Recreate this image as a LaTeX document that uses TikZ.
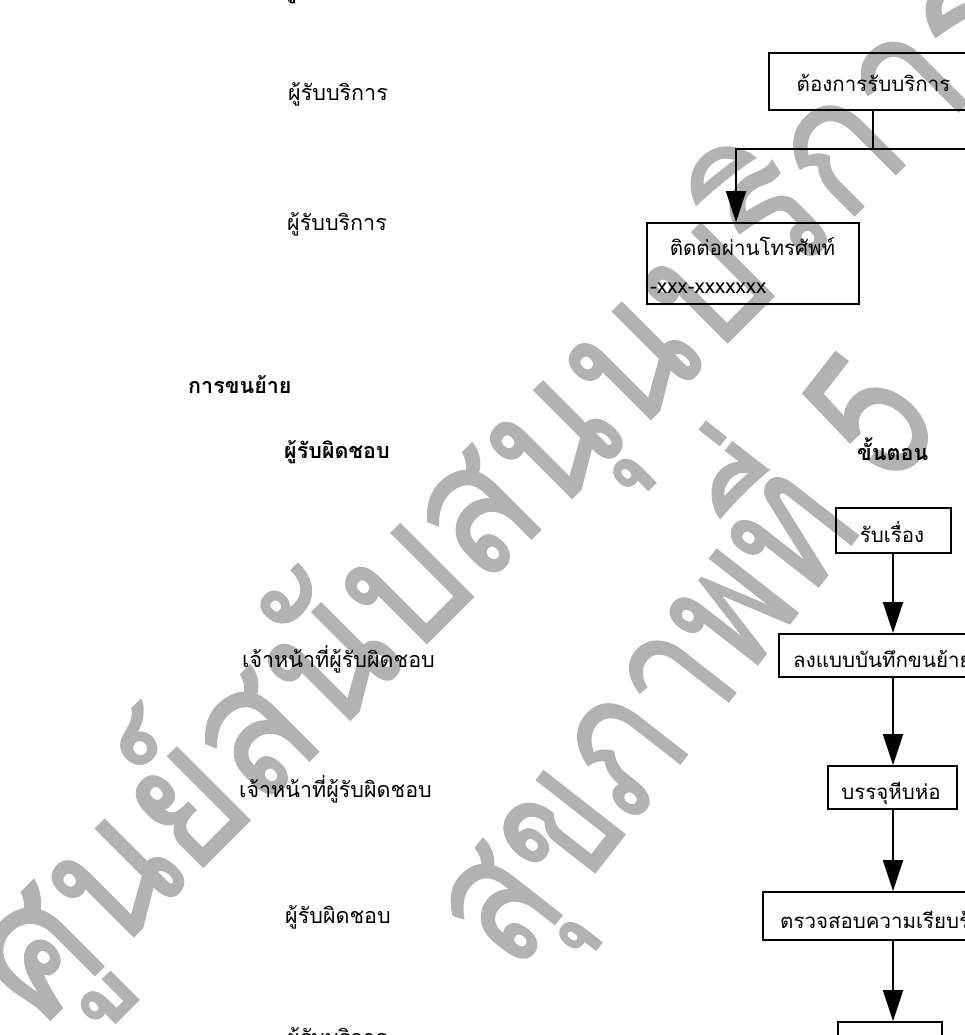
\documentclass[tikz,border=0pt]{standalone}
\usepackage{fontspec}
\usepackage{graphicx}
\usetikzlibrary{arrows.meta}
\newfontfamily\thai[Script=Thai]{Loma}
\newfontfamily\wmthai[Script=Thai,FakeBold=1]{Loma}
\begin{document}
\begin{tikzpicture}[x=1pt,y=-1pt,
  lbl/.style={font=\thai\fontsize{21.5}{24}\selectfont, inner sep=0pt, anchor=base west},
  hdr/.style={lbl, font=\thai\bfseries\fontsize{21.5}{24}\selectfont},
  btxt/.style={font=\thai\fontsize{20.5}{24}\selectfont, inner sep=0pt, anchor=base},
  box/.style={draw, line width=1.8pt, inner sep=0pt},
  arr/.style={line width=2pt, -{Triangle[width=20pt,length=31pt]}},
  ln/.style={line width=2pt},
  wm/.style={font=\wmthai\fontsize{185}{187}\selectfont, text=black!30, inner sep=0pt, anchor=base west}]
\useasboundingbox (0,0) rectangle (965,1035);

% watermark
\node[wm, rotate=45] (wm1) at (40,1030) {\scalebox{0.88}[1]{ศูนย์สนับสนุนบริการ}};
\node[wm, rotate=52] (wm2) at (515,975) {\scalebox{0.8}[1]{สุขภาพที่ 5}};

% left column labels
\node[hdr] (t0) at (284,-1) {ผู้รับผิดชอบ};
\node[lbl] (l1) at (288,101) {ผู้รับบริการ};
\node[lbl] (l2) at (287,230) {ผู้รับบริการ};
\node[hdr] (h1) at (188,393) {การขนย้าย};
\node[hdr] (h2) at (284,458) {ผู้รับผิดชอบ};
\node[hdr] (h3) at (857,460) {ขั้นตอน};
\node[lbl] (l3) at (242,667) {เจ้าหน้าที่ผู้รับผิดชอบ};
\node[lbl] (l4) at (239,797) {เจ้าหน้าที่ผู้รับผิดชอบ};
\node[lbl] (l5) at (285,923) {ผู้รับผิดชอบ};
\node[lbl] (l6) at (287,1045) {ผู้รับบริการ};

% boxes
\node[box, minimum width=209pt, minimum height=57pt] (b1) at (873.5,81.5) {};
\node[btxt] (b1t) at (873.5,92) {ต้องการรับบริการ};
\node[box, minimum width=212pt, minimum height=81pt] (b2) at (753,263.5) {};
\node[btxt] (b2a) at (752.5,255) {ติดต่อผ่านโทรศัพท์};
\node[btxt, anchor=base west] (b2b) at (650,293) {-xxx-xxxxxxx};
\node[box, minimum width=115pt, minimum height=45pt] (b3) at (893.5,530.5) {};
\node[btxt] (b3t) at (892,542) {รับเรื่อง};
\node[box, minimum width=228pt, minimum height=43pt] (b4) at (893,655.5) {};
\node[btxt, anchor=base west] (b4t) at (793,667) {ลงแบบบันทึกขนย้าย};
\node[box, minimum width=129pt, minimum height=43pt] (b5) at (892.5,787.5) {};
\node[btxt] (b5t) at (891,799) {บรรจุหีบห่อ};
\node[box, minimum width=260pt, minimum height=48pt] (b6) at (893,916) {};
\node[btxt, anchor=base west] (b6t) at (780,928) {ตรวจสอบความเรียบร้อย};
\node[box, minimum width=104pt, minimum height=45pt] (b7) at (890,1044.5) {};

% connectors
\coordinate (j1) at (873,149);
\coordinate (jl) at (736,149);
\coordinate (jr) at (1000,149);
\coordinate (c3) at (893,553);
\draw[ln] (j1 |- b1.south) -- (j1) -- (jr);
\draw[arr] (j1) -- (jl) -- (jl |- b2.north);
\draw[arr] (c3 |- b3.south) -- (c3 |- b4.north);
\draw[arr] (c3 |- b4.south) -- (c3 |- b5.north);
\draw[arr] (c3 |- b5.south) -- (c3 |- b6.north);
\draw[arr] (c3 |- b6.south) -- (c3 |- b7.north);
\end{tikzpicture}
\end{document}
